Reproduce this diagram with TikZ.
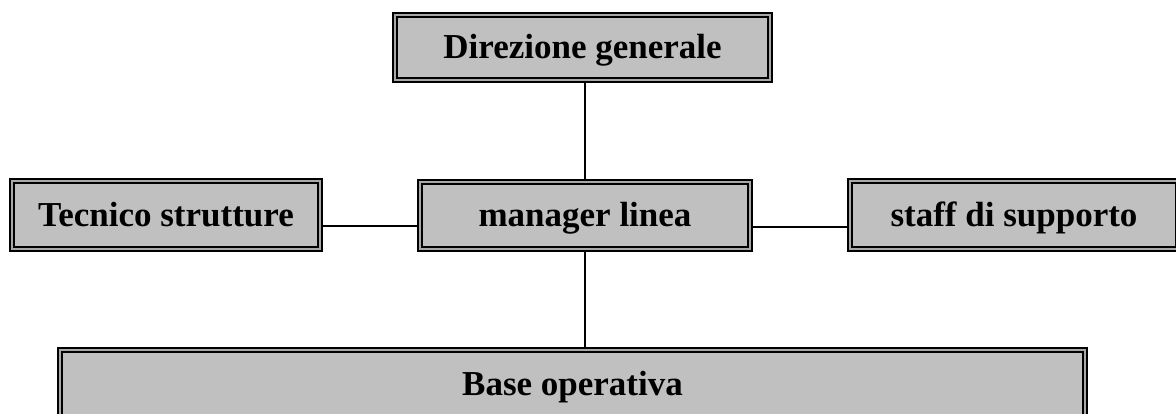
\documentclass[tikz,border=0pt]{standalone}
\usepackage{fontspec}
\setmainfont{Liberation Serif}
\usetikzlibrary{backgrounds}
\definecolor{boxfill}{HTML}{C0C0C0}
\definecolor{boxgap}{HTML}{A8A8A8}
\begin{document}
\begin{tikzpicture}[x=1pt,y=-1pt,
  unit/.style={draw=black, line width=2pt, double=boxgap, double distance=2.2pt,
    fill=boxfill, rectangle, inner sep=0pt,
    font=\fontsize{35}{41}\selectfont\bfseries,
    text height=26pt, text depth=3pt},
  link/.style={draw=black, line width=2pt}]
  \clip (0,0) rectangle (1176,414);

  % organisation units
  \node[unit, minimum width=375pt, minimum height=65pt] (dir)   at (582.5,47.5) {Direzione generale};
  \node[unit, minimum width=308pt, minimum height=68pt] (tec)   at (166,215)    {Tecnico strutture};
  \node[unit, minimum width=330pt, minimum height=67pt] (man)   at (585,215.5)  {manager linea};
  \node[unit, minimum width=328pt, minimum height=68pt] (staff) at (1014,215)   {staff di supporto};
  \node[unit, minimum width=1025pt, minimum height=67pt] (base) at (572.5,383.5) {Base operativa};

  % reporting lines, kept behind the boxes
  \begin{scope}[on background layer]
    \draw[link] (dir.south -| man.north) -- (man.north);
    \draw[link] (man.south) -- (man.south |- base.north);
    \draw[link] ([yshift=-11.5pt]tec.east) -- ([yshift=-11.5pt]tec.east -| man.west);
    \draw[link] ([yshift=-11.5pt]man.east) -- ([yshift=-11.5pt]man.east -| staff.west);
  \end{scope}
\end{tikzpicture}
\end{document}
